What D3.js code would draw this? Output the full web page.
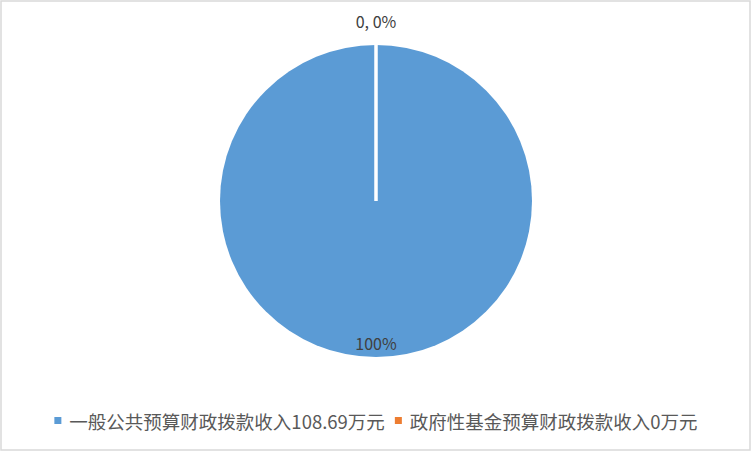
<!DOCTYPE html>
<html lang="zh">
<head>
<meta charset="UTF-8">
<title>收入构成</title>
<style>
  body { margin: 0; background: #fff; }
  svg text { font-family: "Noto Sans CJK SC", "Microsoft YaHei", sans-serif; fill: #595959; }
  .slice-label { font-size: 16px; fill: #404040; }
  .legend text { font-size: 18.5px; }
</style>
</head>
<body>
<svg width="752" height="452"></svg>
<script src="https://d3js.org/d3.v7.min.js"></script>
<script>
// data
const categories = ["一般公共预算财政拨款收入", "政府性基金预算财政拨款收入"];
const values = [108.69, 0];
const colors = ["#5B9BD5", "#ED7D31"];

const svg = d3.select("svg");
const W = 752, H = 452;

// chart border
svg.append("rect")
    .attr("x", 1).attr("y", 1)
    .attr("width", W - 3).attr("height", H - 3)
    .attr("fill", "#fff")
    .attr("stroke", "#d9d9d9")
    .attr("stroke-width", 1.5);

const cx = 376, cy = 201, r = 156;
const total = d3.sum(values);

const data = categories.map((c, i) => ({ name: c, value: values[i], color: colors[i] }));

const pie = d3.pie().sort(null).value(d => d.value);
const arcs = pie(data);
const arc = d3.arc().innerRadius(0).outerRadius(r);

const g = svg.append("g").attr("transform", `translate(${cx},${cy})`);

g.selectAll("path.slice")
    .data(arcs)
    .enter().append("path")
    .attr("class", "slice")
    .attr("d", arc)
    .attr("fill", d => d.data.color)
    .attr("stroke", d => d.value > 0 ? "none" : "#fff")
    .attr("stroke-width", 3.5);

// labels: big slice inside, zero slice outside
function pct(v) { return Math.round(v / total * 100) + "%"; }

g.selectAll("text.slice-label")
    .data(arcs)
    .enter().append("text")
    .attr("class", "slice-label")
    .attr("text-anchor", "middle")
    .attr("dominant-baseline", "central")
    .attr("transform", d => {
        const a = (d.startAngle + d.endAngle) / 2;
        const rr = d.value > 0 ? r * 0.91 : r + 24;
        return `translate(${Math.sin(a) * rr},${-Math.cos(a) * rr})`;
    })
    .text(d => d.value > 0 ? pct(d.value) : `${d.value}, ${pct(d.value)}`);

// legend
const legend = svg.append("g").attr("class", "legend");
const items = legend.selectAll("g")
    .data(data)
    .enter().append("g");

items.append("rect")
    .attr("width", 7).attr("height", 7)
    .attr("y", -4)
    .attr("fill", d => d.color);

items.append("text")
    .attr("x", 15)
    .attr("dominant-baseline", "central")
    .text(d => d.name + d.value + "万元");

let x = 0;
items.each(function () {
    const w = this.getBBox().width;
    d3.select(this).attr("transform", `translate(${x},0)`);
    x += w + 10;
});
const legendW = x - 10;
legend.attr("transform", `translate(${(W - legendW) / 2},421)`);
</script>
</body>
</html>
